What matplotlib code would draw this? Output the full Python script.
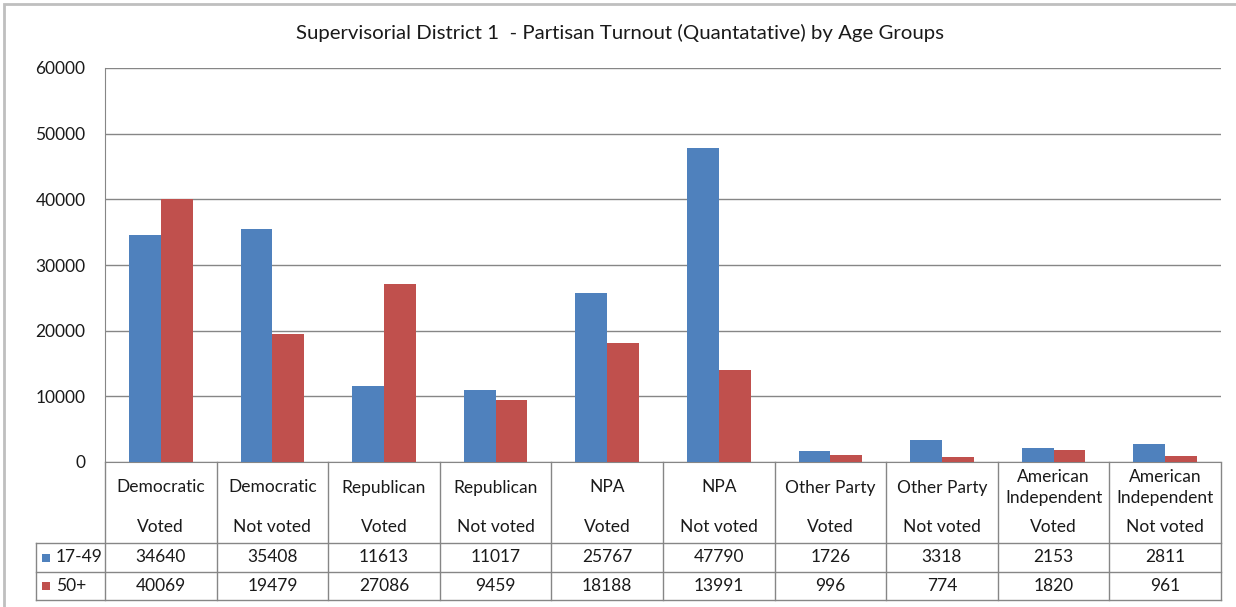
import matplotlib.pyplot as plt
import numpy as np
from matplotlib.lines import Line2D
from matplotlib.patches import Rectangle

parties = ["Democratic", "Democratic", "Republican", "Republican", "NPA", "NPA",
           "Other Party", "Other Party", "American\nIndependent", "American\nIndependent"]
statuses = ["Voted", "Not voted"] * 5
age_17_49 = [34640, 35408, 11613, 11017, 25767, 47790, 1726, 3318, 2153, 2811]
age_50_plus = [40069, 19479, 27086, 9459, 18188, 13991, 996, 774, 1820, 961]
series_names = ["17-49", "50+"]
colors = ["#4F81BD", "#C0504D"]

W, H = 1236, 607
plt.rcParams["font.family"] = ["Lato", "DejaVu Sans"]
fig = plt.figure(figsize=(W / 100, H / 100), dpi=100)


def fx(px):
    return px / W


def fy(py):
    return 1 - py / H


GRID = "#868686"
TXT = "#1a1a1a"
FS = 12.5

# outer chart border
fig.patches.append(Rectangle((fx(4), fy(640)), fx(1300), 636 / H, transform=fig.transFigure,
                             fill=False, edgecolor="#BFBFBF", linewidth=2))

left, right, top, bottom = 105, 1221, 68, 462
ax = fig.add_axes([fx(left), fy(bottom), fx(right - left), (bottom - top) / H])

n = len(parties)
x = np.arange(n) + 0.5
bw = 1 / 3.5
ax.bar(x - bw / 2, age_17_49, width=bw, color=colors[0], zorder=3)
ax.bar(x + bw / 2, age_50_plus, width=bw, color=colors[1], zorder=3)

ax.set_xlim(0, n)
ax.set_ylim(0, 60000)
ax.set_yticks(range(0, 60001, 10000))
ax.tick_params(axis="y", length=0, pad=14, labelsize=FS, labelcolor=TXT)
ax.set_xticks([])
ax.grid(axis="y", color=GRID, linewidth=1, zorder=0)
for s in ["top", "right"]:
    ax.spines[s].set_visible(False)
ax.spines["left"].set_color(GRID)
ax.spines["bottom"].set_color(GRID)

fig.text(0.502, fy(33), "Supervisorial District 1  - Partisan Turnout (Quantatative) by Age Groups",
         ha="center", va="center", fontsize=14.7, color=TXT)

# data table below the plot
cell_w = (right - left) / n
rows_y = [543, 572, 600]
line_kw = dict(transform=fig.transFigure, color=GRID, linewidth=1)
for i in range(n + 1):
    xp = left + i * cell_w
    fig.add_artist(Line2D([fx(xp), fx(xp)], [fy(bottom), fy(600)], **line_kw))
for yp in rows_y:
    fig.add_artist(Line2D([fx(36), fx(right)], [fy(yp), fy(yp)], **line_kw))
fig.add_artist(Line2D([fx(36), fx(36)], [fy(543), fy(600)], **line_kw))

for i in range(n):
    cx = left + (i + 0.5) * cell_w
    fig.text(fx(cx), fy(487.5), parties[i], ha="center", va="center", fontsize=FS,
             color=TXT, linespacing=1.45)
    fig.text(fx(cx), fy(527), statuses[i], ha="center", va="center", fontsize=FS, color=TXT)
    fig.text(fx(cx), fy(557.5), str(age_17_49[i]), ha="center", va="center", fontsize=FS,
             color=TXT)
    fig.text(fx(cx), fy(586), str(age_50_plus[i]), ha="center", va="center", fontsize=FS,
             color=TXT)

for j, (name, c) in enumerate(zip(series_names, colors)):
    yc = [557.5, 586][j]
    fig.patches.append(Rectangle((fx(42), fy(yc + 4)), fx(8), 8 / H, transform=fig.transFigure,
                                 facecolor=c, edgecolor="none"))
    fig.text(fx(56), fy(yc), name, ha="left", va="center", fontsize=FS, color=TXT)

fig.savefig("out.png", dpi=100)
